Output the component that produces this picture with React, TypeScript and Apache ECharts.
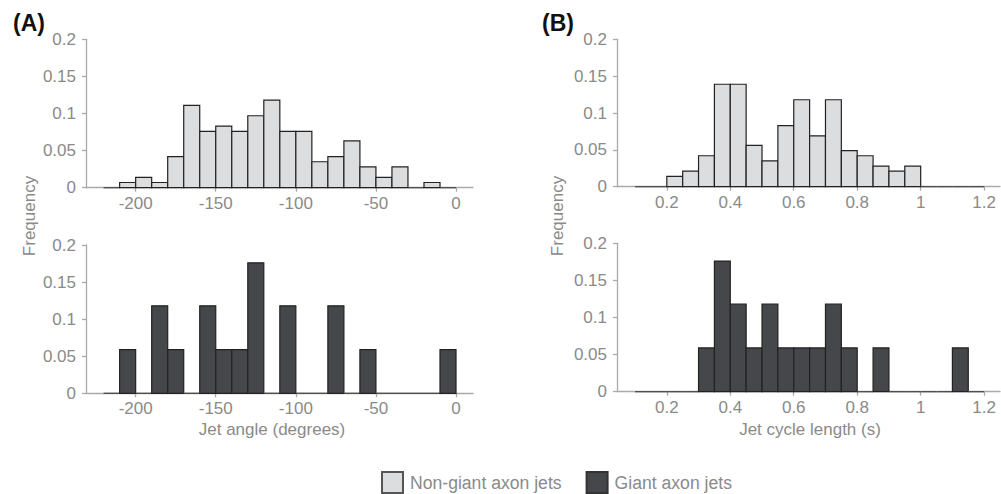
import React, { useEffect, useRef } from "react";
import * as echarts from "echarts";

// ---- Data ----
const angleBinStarts = [-220, -210, -200, -190, -180, -170, -160, -150, -140, -130, -120, -110, -100, -90, -80, -70, -60, -50, -40, -30, -20, -10];
const ANGLE_BIN_WIDTH = 10;
const angleNonGiant = [0, 0.007, 0.014, 0.007, 0.042, 0.111, 0.076, 0.083, 0.076, 0.097, 0.118, 0.076, 0.076, 0.035, 0.042, 0.063, 0.028, 0.014, 0.028, 0, 0.007, 0];
const angleGiant = [0, 0.059, 0, 0.118, 0.059, 0, 0.118, 0.059, 0.059, 0.176, 0, 0.118, 0, 0, 0.118, 0, 0.059, 0, 0, 0, 0, 0.059];

const cycleBinStarts = [0.1, 0.15, 0.2, 0.25, 0.3, 0.35, 0.4, 0.45, 0.5, 0.55, 0.6, 0.65, 0.7, 0.75, 0.8, 0.85, 0.9, 0.95, 1.0, 1.05, 1.1, 1.15];
const CYCLE_BIN_WIDTH = 0.05;
const cycleNonGiant = [0, 0, 0.014, 0.021, 0.042, 0.139, 0.139, 0.056, 0.035, 0.083, 0.118, 0.069, 0.118, 0.049, 0.042, 0.028, 0.021, 0.028, 0, 0, 0, 0];
const cycleGiant = [0, 0, 0, 0, 0.059, 0.176, 0.118, 0.059, 0.118, 0.059, 0.059, 0.059, 0.118, 0.059, 0, 0.059, 0, 0, 0, 0, 0.059, 0];

const angleTicks = [-200, -150, -100, -50, 0];
const cycleTicks = [0.2, 0.4, 0.6, 0.8, 1, 1.2];

const seriesNames = ["Non-giant axon jets", "Giant axon jets"];
const panelLabels = ["(A)", "(B)"];
const xTitles = ["Jet angle (degrees)", "Jet cycle length (s)"];
const yTitle = "Frequency";

const LIGHT = "#dcdddf";
const DARK = "#46474a";
const EDGE = "#222222";
const AXIS = "#aaaaaa";
const TEXT = "#8a8a8a";
const FONT = "'Liberation Sans', Arial, Helvetica, sans-serif";

function histData(starts: number[], width: number, vals: number[]) {
  return starts.map((s, i) => [s, s + width, vals[i]]);
}

function makeRender(fill: string) {
  return (params: any, api: any) => {
    const x0 = api.value(0);
    const x1 = api.value(1);
    const v = api.value(2);
    const pTop = api.coord([x0, v]);
    const pEnd = api.coord([x1, 0]);
    if (!v) {
      return {
        type: "line",
        shape: { x1: pTop[0], y1: pEnd[1], x2: pEnd[0], y2: pEnd[1] },
        style: { stroke: "#4a4a4a", lineWidth: 1.3 },
      };
    }
    return {
      type: "rect",
      shape: { x: pTop[0], y: pTop[1], width: pEnd[0] - pTop[0], height: pEnd[1] - pTop[1] },
      style: { fill, stroke: EDGE, lineWidth: 1.2 },
    };
  };
}

export default function App() {
  const ref = useRef<HTMLDivElement>(null);
  useEffect(() => {
    if (!ref.current) return;
    const chart = echarts.init(ref.current, undefined, { renderer: "svg" });

    const grids = [
      { left: 86, top: 39.3, width: 387, height: 148.4 },
      { left: 86, top: 245, width: 387, height: 148.3 },
      { left: 617, top: 39.3, width: 383, height: 147.4 },
      { left: 617, top: 243.3, width: 383, height: 148.4 },
    ];

    const xAxisBase = (idx: number, min: number, max: number, ticks: number[], fmt: (v: number) => string) => ({
      type: "value",
      gridIndex: idx,
      min,
      max,
      axisLine: { show: true, onZero: false, lineStyle: { color: AXIS, width: 1.3 } },
      axisTick: { show: true, length: 4, inside: false, customValues: ticks, lineStyle: { color: AXIS, width: 1.3 } },
      axisLabel: { show: true, customValues: ticks, color: TEXT, fontSize: 17, fontFamily: FONT, margin: 7, formatter: fmt },
      splitLine: { show: false },
    });

    const yAxisBase = (idx: number) => ({
      type: "value",
      gridIndex: idx,
      min: 0,
      max: 0.2,
      interval: 0.05,
      axisLine: { show: true, onZero: false, lineStyle: { color: AXIS, width: 1.3 } },
      axisTick: { show: true, length: 4, inside: false, lineStyle: { color: AXIS, width: 1.3 } },
      axisLabel: { color: TEXT, fontSize: 17, fontFamily: FONT, margin: 10, formatter: (v: number) => String(+v.toFixed(2)) },
      splitLine: { show: false },
    });

    const angleFmt = (v: number) => String(v);
    const cycleFmt = (v: number) => String(+v.toFixed(1));

    const option: any = {
      animation: false,
      backgroundColor: "#ffffff",
      textStyle: { fontFamily: FONT },
      grid: grids,
      xAxis: [
        xAxisBase(0, -231, 10.6, angleTicks, angleFmt),
        xAxisBase(1, -231, 10.6, angleTicks, angleFmt),
        xAxisBase(2, 0.043, 1.25, cycleTicks, cycleFmt),
        xAxisBase(3, 0.043, 1.25, cycleTicks, cycleFmt),
      ],
      yAxis: [yAxisBase(0), yAxisBase(1), yAxisBase(2), yAxisBase(3)],
      legend: {
        show: true,
        left: 381,
        top: 471,
        padding: 0,
        itemWidth: 21,
        itemHeight: 21,
        itemGap: 24,
        icon: "rect",
        data: seriesNames,
        textStyle: { color: TEXT, fontSize: 17.6, fontFamily: FONT, padding: [0, 0, 0, 2], lineHeight: 21 },
      },
      series: [
        {
          name: seriesNames[0],
          type: "custom",
          xAxisIndex: 0,
          yAxisIndex: 0,
          itemStyle: { color: LIGHT, borderColor: "#555", borderWidth: 1 },
          encode: { x: [0, 1], y: 2 },
          renderItem: makeRender(LIGHT),
          data: histData(angleBinStarts, ANGLE_BIN_WIDTH, angleNonGiant),
        },
        {
          name: seriesNames[1],
          type: "custom",
          xAxisIndex: 1,
          yAxisIndex: 1,
          itemStyle: { color: DARK, borderColor: "#333", borderWidth: 1 },
          encode: { x: [0, 1], y: 2 },
          renderItem: makeRender(DARK),
          data: histData(angleBinStarts, ANGLE_BIN_WIDTH, angleGiant),
        },
        {
          name: seriesNames[0],
          type: "custom",
          xAxisIndex: 2,
          yAxisIndex: 2,
          itemStyle: { color: LIGHT, borderColor: "#555", borderWidth: 1 },
          encode: { x: [0, 1], y: 2 },
          renderItem: makeRender(LIGHT),
          data: histData(cycleBinStarts, CYCLE_BIN_WIDTH, cycleNonGiant),
        },
        {
          name: seriesNames[1],
          type: "custom",
          xAxisIndex: 3,
          yAxisIndex: 3,
          itemStyle: { color: DARK, borderColor: "#333", borderWidth: 1 },
          encode: { x: [0, 1], y: 2 },
          renderItem: makeRender(DARK),
          data: histData(cycleBinStarts, CYCLE_BIN_WIDTH, cycleGiant),
        },
      ],
      graphic: [
        { type: "text", x: 29, y: 23, style: { text: panelLabels[0], fill: "#111", font: `bold 23px ${FONT}`, textAlign: "center", textVerticalAlign: "middle" } },
        { type: "text", x: 558, y: 23, style: { text: panelLabels[1], fill: "#111", font: `bold 23px ${FONT}`, textAlign: "center", textVerticalAlign: "middle" } },
        { type: "text", x: 272, y: 429, style: { text: xTitles[0], fill: TEXT, font: `17px ${FONT}`, textAlign: "center", textVerticalAlign: "middle" } },
        { type: "text", x: 810, y: 429, style: { text: xTitles[1], fill: TEXT, font: `17px ${FONT}`, textAlign: "center", textVerticalAlign: "middle" } },
        { type: "text", x: 29, y: 216, rotation: Math.PI / 2, style: { text: yTitle, fill: TEXT, font: `17px ${FONT}`, textAlign: "center", textVerticalAlign: "middle" } },
        { type: "text", x: 557, y: 216, rotation: Math.PI / 2, style: { text: yTitle, fill: TEXT, font: `17px ${FONT}`, textAlign: "center", textVerticalAlign: "middle" } },
      ],
    };

    chart.setOption(option);
    return () => chart.dispose();
  }, []);

  return <div ref={ref} style={{ position: "absolute", left: 0, top: 0, width: 1001, height: 494 }} />;
}
